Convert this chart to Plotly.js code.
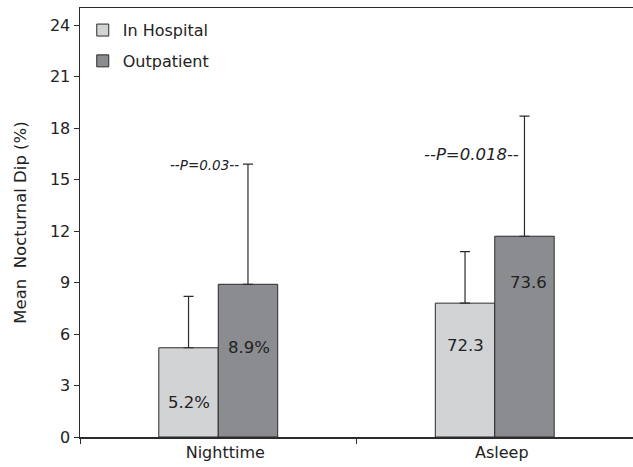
<!DOCTYPE html>
<html>
<head>
<meta charset="utf-8">
<script src="https://cdn.plot.ly/plotly-3.0.1.min.js"></script>
<style>html,body{margin:0;padding:0;background:#fff;}#chart{width:633px;height:467px;}</style>
</head>
<body>
<div id="chart"></div>
<script>
// ---- data ----
const categories = ["Nighttime", "Asleep"];
const seriesNames = ["In Hospital", "Outpatient"];
const inHospital = [5.2, 7.8];
const outpatient = [8.9, 11.7];
const inHospitalErr = [3.0, 3.0];
const outpatientErr = [7.0, 7.0];
const inHospitalLabels = ["5.2%", "72.3"];
const outpatientLabels = ["8.9%", "73.6"];
const pValueLabels = ["--P=0.03--", "--P=0.018--"];
const yTicks = [0, 3, 6, 9, 12, 15, 18, 21, 24];

// ---- layout helpers (positions/styles) ----
const FONT = "DejaVu Sans, Liberation Sans, Arial, sans-serif";
const barColors = ["#d2d3d5", "#8b8c90"];
const lineColor = "#2b2b2b";
const inHospLabelY = [2.0, 5.35];
const outLabelY = [5.2, 9.0];
const pLabelY = [15.85, 16.45];
const pLabelX = [-0.05, -0.085];
const pLabelSize = [13.5, 16.5];
const barHalf = 0.1075;

function barTrace(name, vals, errs, color, group) {
  return {
    type: "bar",
    name: name,
    x: categories,
    y: vals,
    legendgroup: group,
    marker: {color: color, line: {color: lineColor, width: 1}},
    error_y: {type: "data", array: errs, arrayminus: errs.map(() => 0), symmetric: false,
              color: lineColor, thickness: 1.2, width: 5},
    hoverinfo: "skip"
  };
}

const data = [
  barTrace(seriesNames[0], inHospital, inHospitalErr, barColors[0], "g1"),
  barTrace(seriesNames[1], outpatient, outpatientErr, barColors[1], "g2")
];

const annotations = [];
categories.forEach((c, i) => {
  annotations.push({x: i - barHalf, y: inHospLabelY[i], xref: "x", yref: "y",
    text: inHospitalLabels[i], showarrow: false, font: {family: FONT, size: 16.5, color: "#222"}});
  annotations.push({x: i + barHalf, y: outLabelY[i], xref: "x", yref: "y", xshift: i === 1 ? 4 : 1,
    text: outpatientLabels[i], showarrow: false, font: {family: FONT, size: 16.5, color: "#222"}});
  annotations.push({x: i + pLabelX[i], y: pLabelY[i], xref: "x", yref: "y",
    text: "<i>" + pValueLabels[i] + "</i>", showarrow: false,
    font: {family: FONT, size: pLabelSize[i], color: "#222"}});
});

const layout = {
  width: 633, height: 467,
  margin: {l: 80, r: 0, t: 8, b: 30, pad: 0},
  paper_bgcolor: "#fff", plot_bgcolor: "#fff",
  font: {family: FONT, size: 16, color: "#222"},
  barmode: "group",
  bargap: 0.57, bargroupgap: 0,
  showlegend: true,
  legend: {x: 0.005, y: 0.988, xanchor: "left", yanchor: "top",
           traceorder: "grouped", tracegroupgap: 7,
           bgcolor: "rgba(0,0,0,0)", font: {family: FONT, size: 16, color: "#222"}},
  xaxis: {
    type: "category", range: [-0.5, 1.5],
    showline: true, linecolor: lineColor, linewidth: 1.5, mirror: true,
    ticks: "outside", tickson: "boundaries", ticklen: 5, tickcolor: lineColor, tickwidth: 1,
    showgrid: false, zeroline: false,
    tickfont: {family: FONT, size: 16, color: "#222"},
    ticklabelshift: 7
  },
  yaxis: {
    range: [0, 25], tickvals: yTicks, ticktext: yTicks.map(String),
    showline: true, linecolor: lineColor, linewidth: 1.5,
    ticks: "outside", ticklen: 5, tickcolor: lineColor, tickwidth: 1,
    showgrid: false, zeroline: false,
    tickfont: {family: FONT, size: 16, color: "#222"},
    title: {text: "Mean  Nocturnal Dip (%)", font: {family: FONT, size: 16.5, color: "#222"}, standoff: 19}
  },
  annotations: annotations
};

Plotly.newPlot("chart", data, layout, {displayModeBar: false, staticPlot: true});
</script>
</body>
</html>
